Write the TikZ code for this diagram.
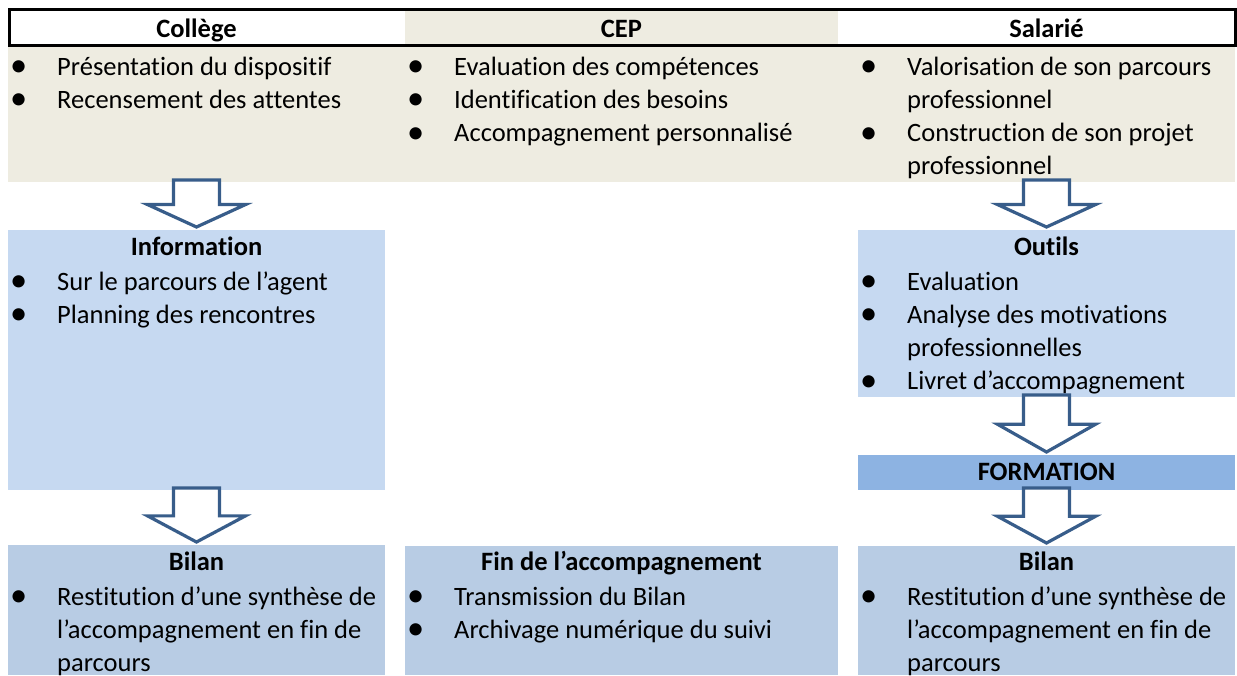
\documentclass[tikz,border=0pt]{standalone}
\usepackage{fontspec}
\setmainfont{Carlito}[RawFeature=-liga, RawFeature=-clig, RawFeature=-dlig, RawFeature=-calt]
\usepackage{xcolor}
\usetikzlibrary{calc}
\definecolor{beige}{HTML}{EEECE1}
\definecolor{infoblue}{HTML}{C6D9F1}
\definecolor{bilanblue}{HTML}{B8CCE4}
\definecolor{formblue}{HTML}{8DB3E2}
\definecolor{arrowblue}{HTML}{385D8A}
\newcommand{\taille}{\fontsize{26.5}{33.3}\selectfont}
\newcommand{\puces}[1]{\begin{tabular}[t]{@{}p{47pt}@{}l@{}}#1\end{tabular}}
\newcommand{\blt}{\raisebox{-1.5pt}{\scalebox{1.3}{\textbullet}}}
\tikzset{panel/.style={inner sep=0pt, outer sep=0pt, anchor=north west},
  titre/.style={font=\taille\bfseries, anchor=base, inner sep=0pt},
  liste/.style={font=\taille, anchor=base west, inner sep=0pt},
  fleche/.style={draw=arrowblue, line width=3.2pt, fill=white, line join=miter}}
\newcommand{\blocfleche}[2]{%
  \draw[fleche] let \p1=(#1.south), \p2=(#2.north) in
    (\x2-23pt,\y1+2pt) -- (\x2+23pt,\y1+2pt) -- (\x2+23pt,{0.53*(\y1)+0.47*(\y2)})
    -- (\x2+49pt,{0.53*(\y1)+0.47*(\y2)}) -- (\x2,\y2+3pt)
    -- (\x2-49pt,{0.53*(\y1)+0.47*(\y2)}) -- (\x2-23pt,{0.53*(\y1)+0.47*(\y2)}) -- cycle;}

\begin{document}
\begin{tikzpicture}[x=1pt, y=-1pt]
\useasboundingbox (0,0) rectangle (1237,675);

% en-tete
\node[panel, minimum width=377pt, minimum height=35.5pt] (h1) at (8,9.5) {};
\node[panel, fill=beige, minimum width=433pt, minimum height=35.5pt] (h2) at (405,9.5) {};
\node[panel, minimum width=377pt, minimum height=35.5pt] (h3) at (858,9.5) {};
\draw[line width=3pt] ([xshift=1.5pt]h1.north west) rectangle (h3.south east);
\node[titre] at ([yshift=-27.5pt]h1.north) {Collège};
\node[titre] at ([yshift=-27.5pt]h2.north) {CEP};
\node[titre] at ([yshift=-27.5pt]h3.north) {Salarié};

% premiere ligne
\node[panel, fill=beige, minimum width=397pt, minimum height=135pt] (c1) at (8,47) {};
\node[panel, fill=beige, minimum width=433pt, minimum height=135pt] (c2) at (405,47) {};
\node[panel, fill=beige, minimum width=397pt, minimum height=135pt] (c3) at (838,47) {};
\node[liste] (l1) at ([shift={(2pt,-28pt)}]c1.north west)
  {\puces{\blt & Présentation du dispositif\\ \blt & Recensement des attentes}};
\node[liste] (l2) at ([shift={(2pt,-28pt)}]c2.north west)
  {\puces{\blt & Evaluation des compétences\\ \blt & Identification des besoins\\
   \blt & Accompagnement personnalisé}};
\node[liste] (l3) at ([shift={(22pt,-28pt)}]c3.north west)
  {\puces{\blt & Valorisation de son parcours\\ & professionnel\\
   \blt & Construction de son projet\\ & professionnel}};

% colonne college
\node[panel, fill=infoblue, minimum width=377pt, minimum height=260pt] (info) at (8,230) {};
\node[titre] at ([yshift=-25pt]info.north) {Information};
\node[liste] at ([shift={(2pt,-60pt)}]info.north west)
  {\puces{\blt & Sur le parcours de l’agent\\ \blt & Planning des rencontres}};
\node[panel, fill=bilanblue, minimum width=377pt, minimum height=130pt] (bilan1) at (8,545) {};
\node[titre] at ([yshift=-25pt]bilan1.north) {Bilan};
\node[liste] at ([shift={(2pt,-60pt)}]bilan1.north west)
  {\puces{\blt & Restitution d’une synthèse de\\ & l’accompagnement en fin de\\ & parcours}};

% colonne CEP
\node[panel, fill=bilanblue, minimum width=433pt, minimum height=129pt] (fin) at (405,546) {};
\node[titre] at ([yshift=-24pt]fin.north) {Fin de l’accompagnement};
\node[liste] at ([shift={(2pt,-59pt)}]fin.north west)
  {\puces{\blt & Transmission du Bilan\\ \blt & Archivage numérique du suivi}};

% colonne salarie
\node[panel, fill=infoblue, minimum width=377pt, minimum height=167pt] (outils) at (858,230) {};
\node[titre] at ([yshift=-25pt]outils.north) {Outils};
\node[liste] at ([shift={(2pt,-60pt)}]outils.north west)
  {\puces{\blt & Evaluation\\ \blt & Analyse des motivations\\ & professionnelles\\
   \blt & Livret d’accompagnement}};
\node[panel, fill=formblue, minimum width=377pt, minimum height=35pt] (formation) at (858,455) {};
\node[titre] at ([yshift=-25pt]formation.north) {FORMATION};
\node[panel, fill=bilanblue, minimum width=377pt, minimum height=129pt] (bilan3) at (858,546) {};
\node[titre] at ([yshift=-24pt]bilan3.north) {Bilan};
\node[liste] at ([shift={(2pt,-59pt)}]bilan3.north west)
  {\puces{\blt & Restitution d’une synthèse de\\ & l’accompagnement en fin de\\ & parcours}};

% fleches
\blocfleche{c1}{info}
\blocfleche{info}{bilan1}
\blocfleche{c3}{outils}
\blocfleche{outils}{formation}
\blocfleche{formation}{bilan3}
\end{tikzpicture}
\end{document}
